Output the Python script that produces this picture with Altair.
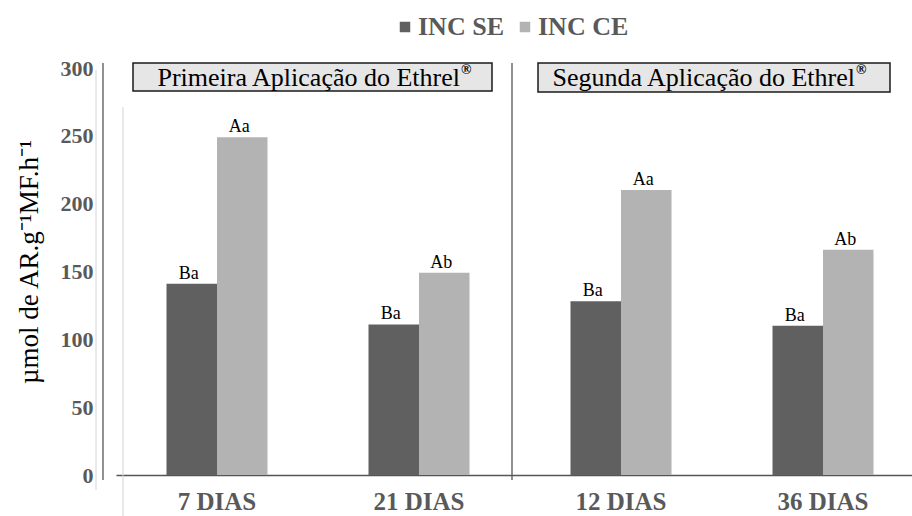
import altair as alt
import pandas as pd

# Data: sampling days, treatment series, activity values and significance letters
dias = ["7 DIAS", "21 DIAS", "12 DIAS", "36 DIAS"]
series = ["INC SE", "INC CE"]
inc_se = [141, 111, 128, 110]
inc_ce = [249, 149, 210, 166]
letras_se = ["Ba", "Ba", "Ba", "Ba"]
letras_ce = ["Aa", "Ab", "Aa", "Ab"]
y_ticks = [0, 50, 100, 150, 200, 250, 300]
aplicacoes = ["Primeira Aplicação do Ethrel", "Segunda Aplicação do Ethrel"]

rows = []
for i, d in enumerate(dias):
    rows.append({"dia": d, "serie": series[0], "valor": inc_se[i], "letra": letras_se[i]})
    rows.append({"dia": d, "serie": series[1], "valor": inc_ce[i], "letra": letras_ce[i]})
df = pd.DataFrame(rows)

SERIF = "'Liberation Serif', 'Times New Roman', serif"
GRAY_TXT = "#595959"
DARK = "#606060"
LIGHT = "#b3b3b3"

W, H = 809, 407

x_enc = alt.X(
    "dia:N",
    sort=dias,
    scale=alt.Scale(range=[13, 821], paddingInner=0.5, paddingOuter=0.25),
    axis=alt.Axis(
        title=None, ticks=False, labelAngle=0, labelFont=SERIF, labelFontWeight="bold",
        labelFontSize=25, labelColor=GRAY_TXT, labelPadding=14,
        domainColor="#555555", domainWidth=1.3, grid=False,
    ),
)
xoff = alt.XOffset("serie:N", sort=series)
y_enc = alt.Y(
    "valor:Q",
    scale=alt.Scale(domain=[0, 300], nice=False),
    axis=alt.Axis(
        values=y_ticks, grid=False, ticks=False, domain=False,
        labelFont=SERIF, labelFontWeight="bold", labelFontSize=22,
        labelColor=GRAY_TXT, labelPadding=10,
        title="µmol de AR.g⁻¹MF.h⁻¹", titleFont=SERIF, titleFontWeight="normal",
        titleFontSize=27, titleColor="#000000", titleAngle=270,
        titleX=-74, titleY=H / 2 - 10, titleAlign="center", titleBaseline="middle",
    ),
)

bars = alt.Chart(df).mark_bar().encode(
    x=x_enc,
    xOffset=xoff,
    y=y_enc,
    color=alt.Color(
        "serie:N",
        sort=series,
        scale=alt.Scale(domain=series, range=[DARK, LIGHT]),
        legend=alt.Legend(
            title=None, orient="none", legendX=289, legendY=-54, direction="horizontal",
            symbolType="square", symbolSize=110, symbolStrokeWidth=0,
            labelFont=SERIF, labelFontWeight="bold", labelFontSize=26,
            labelColor=GRAY_TXT, labelOffset=0, columnPadding=8, padding=0,
        ),
    ),
)

letras = alt.Chart(df).mark_text(
    font=SERIF, fontSize=18, color="#000000", baseline="alphabetic", dy=-5, dx=-3
).encode(x=alt.X("dia:N", sort=dias), xOffset=xoff, y="valor:Q", text="letra:N")

one = alt.Data(values=[{}])

# Axis line, divider between the two applications, and faint guide lines
y_axis_line = alt.Chart(one).mark_rule(color="#555555", strokeWidth=1.3).encode(
    x=alt.value(0), y=alt.value(-5), y2=alt.value(H + 5)
)
divisor = alt.Chart(one).mark_rule(color="#555555", strokeWidth=1.3).encode(
    x=alt.value(409), y=alt.value(-5), y2=alt.value(H + 5)
)
faint1 = alt.Chart(one).mark_rule(color="#d4d4d4", strokeWidth=1).encode(
    x=alt.value(-7), y=alt.value(2), y2=alt.value(H + 15)
)
faint2 = alt.Chart(one).mark_rule(color="#d4d4d4", strokeWidth=1).encode(
    x=alt.value(20), y=alt.value(39), y2=alt.value(H + 45)
)

# Application header boxes
box1 = alt.Chart(one).mark_rect(fill="#e6e6e6", stroke="#1a1a1a", strokeWidth=1.5).encode(
    x=alt.value(30), x2=alt.value(389), y=alt.value(-5), y2=alt.value(23)
)
box2 = alt.Chart(one).mark_rect(fill="#e6e6e6", stroke="#1a1a1a", strokeWidth=1.5).encode(
    x=alt.value(435), x2=alt.value(787), y=alt.value(-5), y2=alt.value(24)
)
t1 = alt.Chart(one).mark_text(
    font=SERIF, fontSize=26, color="#000000", align="right", baseline="middle", text=aplicacoes[0]
).encode(x=alt.value(357), y=alt.value(10))
r1 = alt.Chart(one).mark_text(
    font=SERIF, fontSize=14, fontWeight="bold", color="#000000", align="left",
    baseline="middle", text="®"
).encode(x=alt.value(358), y=alt.value(2))
t2 = alt.Chart(one).mark_text(
    font=SERIF, fontSize=26, color="#000000", align="right", baseline="middle", text=aplicacoes[1]
).encode(x=alt.value(752), y=alt.value(10))
r2 = alt.Chart(one).mark_text(
    font=SERIF, fontSize=14, fontWeight="bold", color="#000000", align="left",
    baseline="middle", text="®"
).encode(x=alt.value(753), y=alt.value(2))

chart = alt.layer(
    faint1, faint2, bars, letras, y_axis_line, divisor, box1, box2, t1, r1, t2, r2
).properties(
    width=W,
    height=H,
    autosize=alt.AutoSizeParams(type="none"),
    padding={"left": 103, "top": 68, "right": 0, "bottom": 41},
    background="white",
).configure_view(stroke=None)

chart.save("out.html", embed_options={"renderer": "svg", "actions": False})
